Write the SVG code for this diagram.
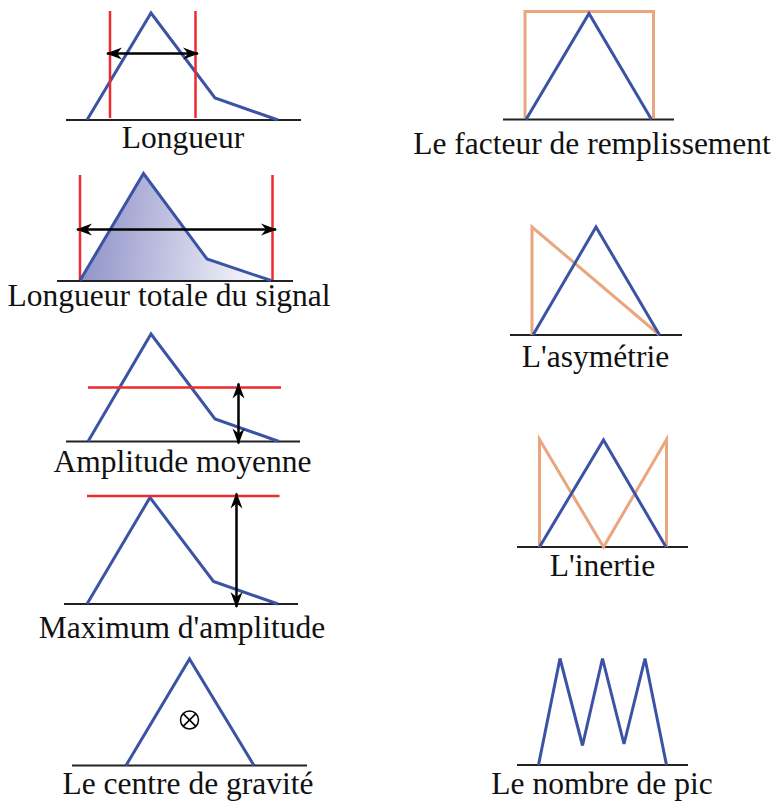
<svg xmlns="http://www.w3.org/2000/svg" width="777" height="802" viewBox="0 0 777 802">
<style>
.base{stroke:#222;stroke-width:2;fill:none}
.sig{stroke:#3A53A4;stroke-width:3;fill:none;stroke-linejoin:miter}
.red{stroke:#EE2A2E;stroke-width:2.5;fill:none}
.org{stroke:#E9A67F;stroke-width:3;fill:none}
.arr{stroke:#000;stroke-width:2.5;fill:none;marker-start:url(#ah);marker-end:url(#ah)}
.lbl{font-family:"Liberation Serif","Times New Roman",serif;font-size:31.5px;fill:#111;text-anchor:middle}
</style>
<defs>
<marker id="ah" viewBox="-16 -7 18 14" refX="0" refY="0" markerWidth="18" markerHeight="14" markerUnits="userSpaceOnUse" orient="auto-start-reverse">
<path d="M1,0 L-15,-6 L-10,0 L-15,6 Z" fill="#000"/>
</marker>
<linearGradient id="gr" gradientUnits="userSpaceOnUse" x1="80" y1="240" x2="271" y2="262">
<stop offset="0" stop-color="#8E91C8"/>
<stop offset="1" stop-color="#FFFFFF"/>
</linearGradient>
</defs>

<g id="longueur">
<line class="base" x1="66" y1="120" x2="301" y2="120"/>
<polyline class="sig" points="87,120 151,13 215,98 278,120"/>
<line class="red" x1="110" y1="11" x2="110" y2="118"/>
<line class="red" x1="195.5" y1="11" x2="195.5" y2="118"/>
<text class="lbl" x="183" y="148">Longueur</text>
</g>

<g id="longueur-totale">
<polygon points="80,280.5 143.5,173.5 207,259 271,280.5" fill="url(#gr)"/>
<line class="base" x1="57" y1="281" x2="293" y2="281"/>
<line class="red" x1="80" y1="175" x2="80" y2="280"/>
<line class="red" x1="272.5" y1="175" x2="272.5" y2="280"/>
<polyline class="sig" points="80,280.5 143.5,173.5 207,259 271,280.5"/>
<text class="lbl" x="169" y="306">Longueur totale du signal</text>
</g>

<g id="amplitude-moyenne">
<line class="base" x1="66" y1="441.5" x2="300" y2="441.5"/>
<polyline class="sig" points="88,441.5 151,334 215,419 279,441.5"/>
<line class="red" x1="88" y1="387.5" x2="281" y2="387.5"/>
<text class="lbl" x="182.5" y="472">Amplitude moyenne</text>
</g>

<g id="maximum-amplitude">
<line class="base" x1="64" y1="604" x2="298" y2="604"/>
<polyline class="sig" points="87,604 150,497.5 213.5,581.5 278,604"/>
<line class="red" x1="87" y1="496" x2="279.5" y2="496"/>
<text class="lbl" x="182" y="637.5">Maximum d'amplitude</text>
</g>

<g id="centre-gravite">
<line class="base" x1="72" y1="765.5" x2="307" y2="765.5"/>
<polyline class="sig" points="126,765.5 189.5,659 254,765.5"/>
<circle cx="189.5" cy="720" r="9" fill="none" stroke="#000" stroke-width="1.5"/>
<line x1="183.1" y1="713.6" x2="195.9" y2="726.4" stroke="#000" stroke-width="1.5"/>
<line x1="195.9" y1="713.6" x2="183.1" y2="726.4" stroke="#000" stroke-width="1.5"/>
<text class="lbl" x="188" y="793.5">Le centre de gravité</text>
</g>

<g id="facteur-remplissement">
<line class="base" x1="503" y1="119.5" x2="674" y2="119.5"/>
<polyline class="org" points="525,118.5 525,11.5 653.5,11.5 653.5,118.5"/>
<polyline class="sig" points="526,119.5 589,13.5 651.5,119.5"/>
<text class="lbl" x="592" y="153.5">Le facteur de remplissement</text>
</g>

<g id="asymetrie">
<line class="base" x1="510" y1="335" x2="682" y2="335"/>
<polyline class="org" points="532,335 532,227 659.5,335"/>
<polyline class="sig" points="533,335 596,227 659.5,335"/>
<text class="lbl" x="595.5" y="367">L'asymétrie</text>
</g>

<g id="inertie">
<line class="base" x1="517" y1="547" x2="688" y2="547"/>
<polyline class="org" points="539.5,547 539.5,439.5 603.5,547 666.5,439.5 666.5,547"/>
<polyline class="sig" points="539.5,547 603.5,440 666,547"/>
<text class="lbl" x="602.5" y="576">L'inertie</text>
</g>

<g id="nombre-pic">
<line class="base" x1="517" y1="765" x2="688" y2="765"/>
<polyline class="sig" points="538.5,765 560,658.5 582.5,745.5 602.5,658.5 624,744 645,658.5 666.5,765"/>
<text class="lbl" x="602" y="793.5">Le nombre de pic</text>
</g>

<g id="connectors">
<line class="arr" x1="107" y1="53.5" x2="198" y2="53.5"/>
<line class="arr" x1="77" y1="229.5" x2="276" y2="229.5"/>
<line class="arr" x1="238.5" y1="383.5" x2="238.5" y2="443.5"/>
<line class="arr" x1="236.5" y1="493.5" x2="236.5" y2="607"/>
</g>
</svg>
